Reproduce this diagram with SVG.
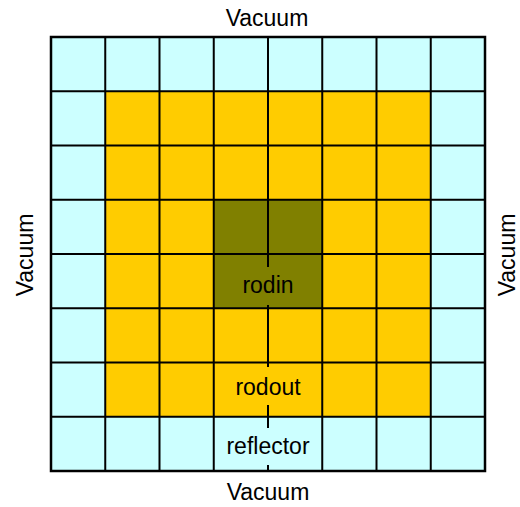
<svg xmlns="http://www.w3.org/2000/svg" width="520" height="507" viewBox="0 0 520 507">
<style>
.t{font-family:"Liberation Sans",Arial,sans-serif;font-size:23px;fill:#000;text-anchor:middle}
.g{stroke:#000;stroke-width:2;fill:none}
</style>
<rect width="520" height="507" fill="#fff"/>
<g id="reflector"><rect x="51" y="37" width="434" height="434" fill="#CCFFFF"/></g>
<g id="rodout"><rect x="105.25" y="91.25" width="325.5" height="325.5" fill="#FFCC00"/></g>
<g id="rodin"><rect x="213.75" y="199.75" width="108.5" height="108.5" fill="#808000"/></g>
<g id="grid" class="g">
<path d="M105.25 37V471M159.5 37V471M213.75 37V471M268 37V471M322.25 37V471M376.5 37V471M430.75 37V471"/>
<path d="M51 91.25H485M51 145.5H485M51 199.75H485M51 254H485M51 308.25H485M51 362.5H485M51 416.75H485"/>
<rect x="51" y="37" width="434" height="434" stroke-width="2.5"/>
</g>
<g id="labels">
<rect x="238" y="267" width="60" height="38" fill="#808000"/>
<text class="t" x="268" y="293">rodin</text>
<rect x="232" y="367" width="72" height="38" fill="#FFCC00"/>
<text class="t" x="268" y="395">rodout</text>
<rect x="222" y="428" width="92" height="37" fill="#CCFFFF"/>
<text class="t" x="268" y="454">reflector</text>
</g>
<g id="vacuum">
<text class="t" x="267" y="26">Vacuum</text>
<text class="t" x="268" y="500">Vacuum</text>
<text class="t" transform="translate(33 255) rotate(-90)">Vacuum</text>
<text class="t" transform="translate(514.5 255) rotate(-90)">Vacuum</text>
</g>
</svg>
